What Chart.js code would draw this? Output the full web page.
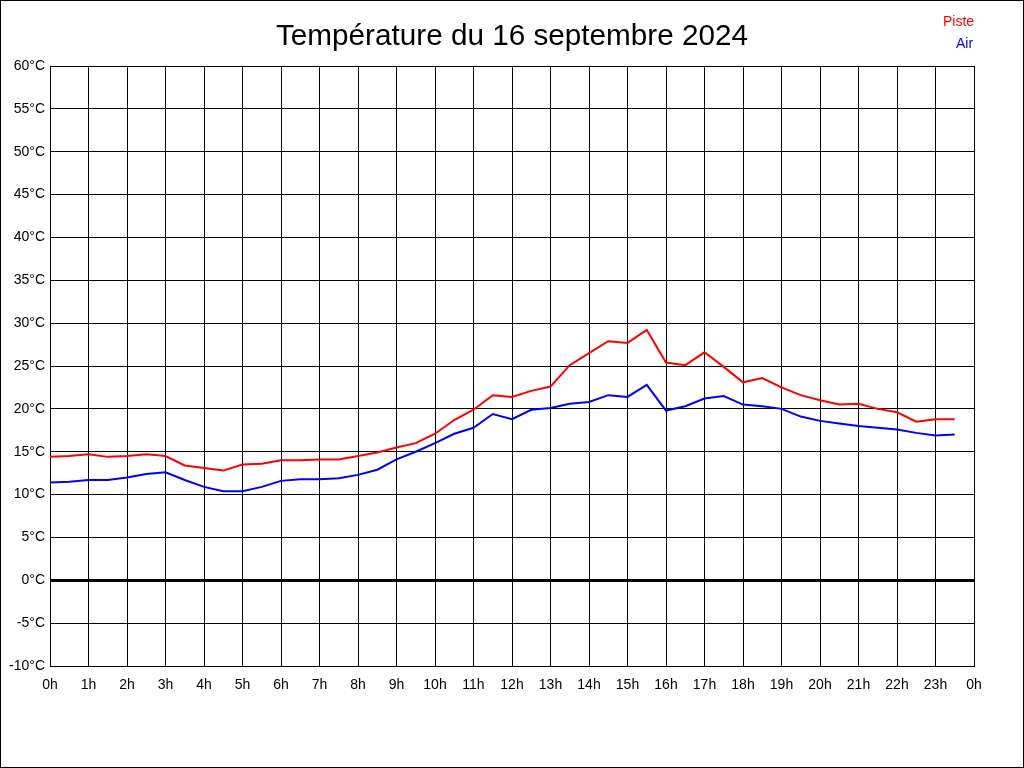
<!DOCTYPE html>
<html>
<head>
<meta charset="utf-8">
<title>Température du 16 septembre 2024</title>
<script src="https://cdn.jsdelivr.net/npm/chart.js@4/dist/chart.umd.min.js"></script>
<style>
    body { margin: 0; background: #fff; }
    canvas { display: block; }
</style>
</head>
<body>
<canvas id="myChart" width="1024" height="768"></canvas>
<script>
// Half-hour readings of the day
const hours = [0, 0.5, 1, 1.5, 2, 2.5, 3, 3.5, 4, 4.5, 5, 5.5, 6, 6.5, 7, 7.5,
    8, 8.5, 9, 9.5, 10, 10.5, 11, 11.5, 12, 12.5, 13, 13.5, 14, 14.5, 15, 15.5,
    16, 16.5, 17, 17.5, 18, 18.5, 19, 19.5, 20, 20.5, 21, 21.5, 22, 22.5, 23, 23.5];

const piste = [14.4, 14.5, 14.7, 14.4, 14.5, 14.7, 14.5, 13.4, 13.1, 12.8, 13.5, 13.6, 14.0, 14.0, 14.1, 14.1,
    14.5, 14.9, 15.5, 16.0, 17.1, 18.7, 19.9, 21.6, 21.4, 22.1, 22.6, 25.1, 26.5, 27.9, 27.7, 29.2,
    25.4, 25.1, 26.6, 24.9, 23.1, 23.6, 22.5, 21.6, 21.0, 20.5, 20.6, 20.0, 19.6, 18.5, 18.8, 18.8];

const air = [11.4, 11.5, 11.7, 11.7, 12.0, 12.4, 12.6, 11.7, 10.9, 10.4, 10.4, 10.9, 11.6, 11.8, 11.8, 11.9,
    12.3, 12.9, 14.1, 15.0, 16.0, 17.1, 17.8, 19.4, 18.8, 19.9, 20.1, 20.6, 20.8, 21.6, 21.4, 22.8,
    19.8, 20.3, 21.2, 21.5, 20.5, 20.3, 20.0, 19.1, 18.6, 18.3, 18.0, 17.8, 17.6, 17.2, 16.9, 17.0];

// Axis ranges and tick labels
const yMin = -10, yMax = 60, yStep = 5;
const xMin = 0, xMax = 24;
const hourLabels = ['0h', '1h', '2h', '3h', '4h', '5h', '6h', '7h', '8h', '9h', '10h', '11h',
    '12h', '13h', '14h', '15h', '16h', '17h', '18h', '19h', '20h', '21h', '22h', '23h', '0h'];

const seriesNames = ['Piste', 'Air'];
const seriesColors = ['#ff0000', '#0000ff'];

function toPoints(values) {
    return values.map((v, i) => ({ x: hours[i], y: v }));
}

// White background, outer frame and the small legend in the corner
const framePlugin = {
    id: 'frame',
    beforeDraw(chart) {
        const c = chart.ctx;
        c.save();
        c.fillStyle = '#fff';
        c.fillRect(0, 0, chart.width, chart.height);
        c.restore();
    },
    afterDraw(chart) {
        const c = chart.ctx;
        c.save();
        c.strokeStyle = '#000';
        c.lineWidth = 1;
        c.strokeRect(0.5, 0.5, chart.width - 1, chart.height - 1);
        c.font = '14px "Liberation Sans", Arial, sans-serif';
        c.textBaseline = 'middle';
        c.textAlign = 'left';
        c.fillStyle = seriesColors[0];
        c.fillText(seriesNames[0], 943, 22);
        c.fillStyle = seriesColors[1];
        c.fillText(seriesNames[1], 956, 44);
        c.restore();
    }
};

const tickFont = { family: '"Liberation Sans", Arial, sans-serif', size: 14 };

const ctx = document.getElementById('myChart').getContext('2d');
const myChart = new Chart(ctx, {
    type: 'line',
    data: {
        datasets: [{
            label: seriesNames[0],
            data: toPoints(piste),
            borderColor: seriesColors[0],
            borderWidth: 2,
            pointRadius: 0,
            tension: 0
        }, {
            label: seriesNames[1],
            data: toPoints(air),
            borderColor: seriesColors[1],
            borderWidth: 2,
            pointRadius: 0,
            tension: 0
        }]
    },
    options: {
        responsive: false,
        animation: false,
        layout: {
            padding: 0
        },
        plugins: {
            legend: { display: false },
            tooltip: { enabled: false },
            title: {
                display: true,
                text: 'Température du 16 septembre 2024',
                color: '#000',
                font: { family: '"Liberation Sans", Arial, sans-serif', size: 29.7, weight: 'normal', lineHeight: 1.2 },
                padding: { top: 19, bottom: 11.4 }
            }
        },
        scales: {
            x: {
                type: 'linear',
                min: xMin,
                max: xMax,
                afterFit(scale) { scale.height = 102; },
                grid: { color: '#000', lineWidth: 1, drawTicks: false },
                border: { color: '#000', width: 1 },
                ticks: {
                    stepSize: 1,
                    autoSkip: false,
                    maxRotation: 0,
                    padding: 11,
                    color: '#000',
                    font: tickFont,
                    callback: (value) => hourLabels[value]
                }
            },
            y: {
                min: yMin,
                max: yMax,
                afterFit(scale) { scale.width = 50; },
                grid: {
                    color: '#000',
                    lineWidth: (c) => (c.tick && c.tick.value === 0 ? 3 : 1),
                    drawTicks: false
                },
                border: { color: '#000', width: 1 },
                ticks: {
                    stepSize: yStep,
                    padding: 5,
                    color: '#000',
                    font: tickFont,
                    callback: (value) => value + '°C'
                }
            },
            // empty right-hand margin, keeps the plot away from the frame
            yRight: {
                position: 'right',
                min: yMin,
                max: yMax,
                afterFit(scale) { scale.width = 50; },
                grid: { display: false, drawOnChartArea: false },
                border: { display: false },
                ticks: { display: false }
            }
        }
    },
    plugins: [framePlugin]
});
</script>
</body>
</html>
